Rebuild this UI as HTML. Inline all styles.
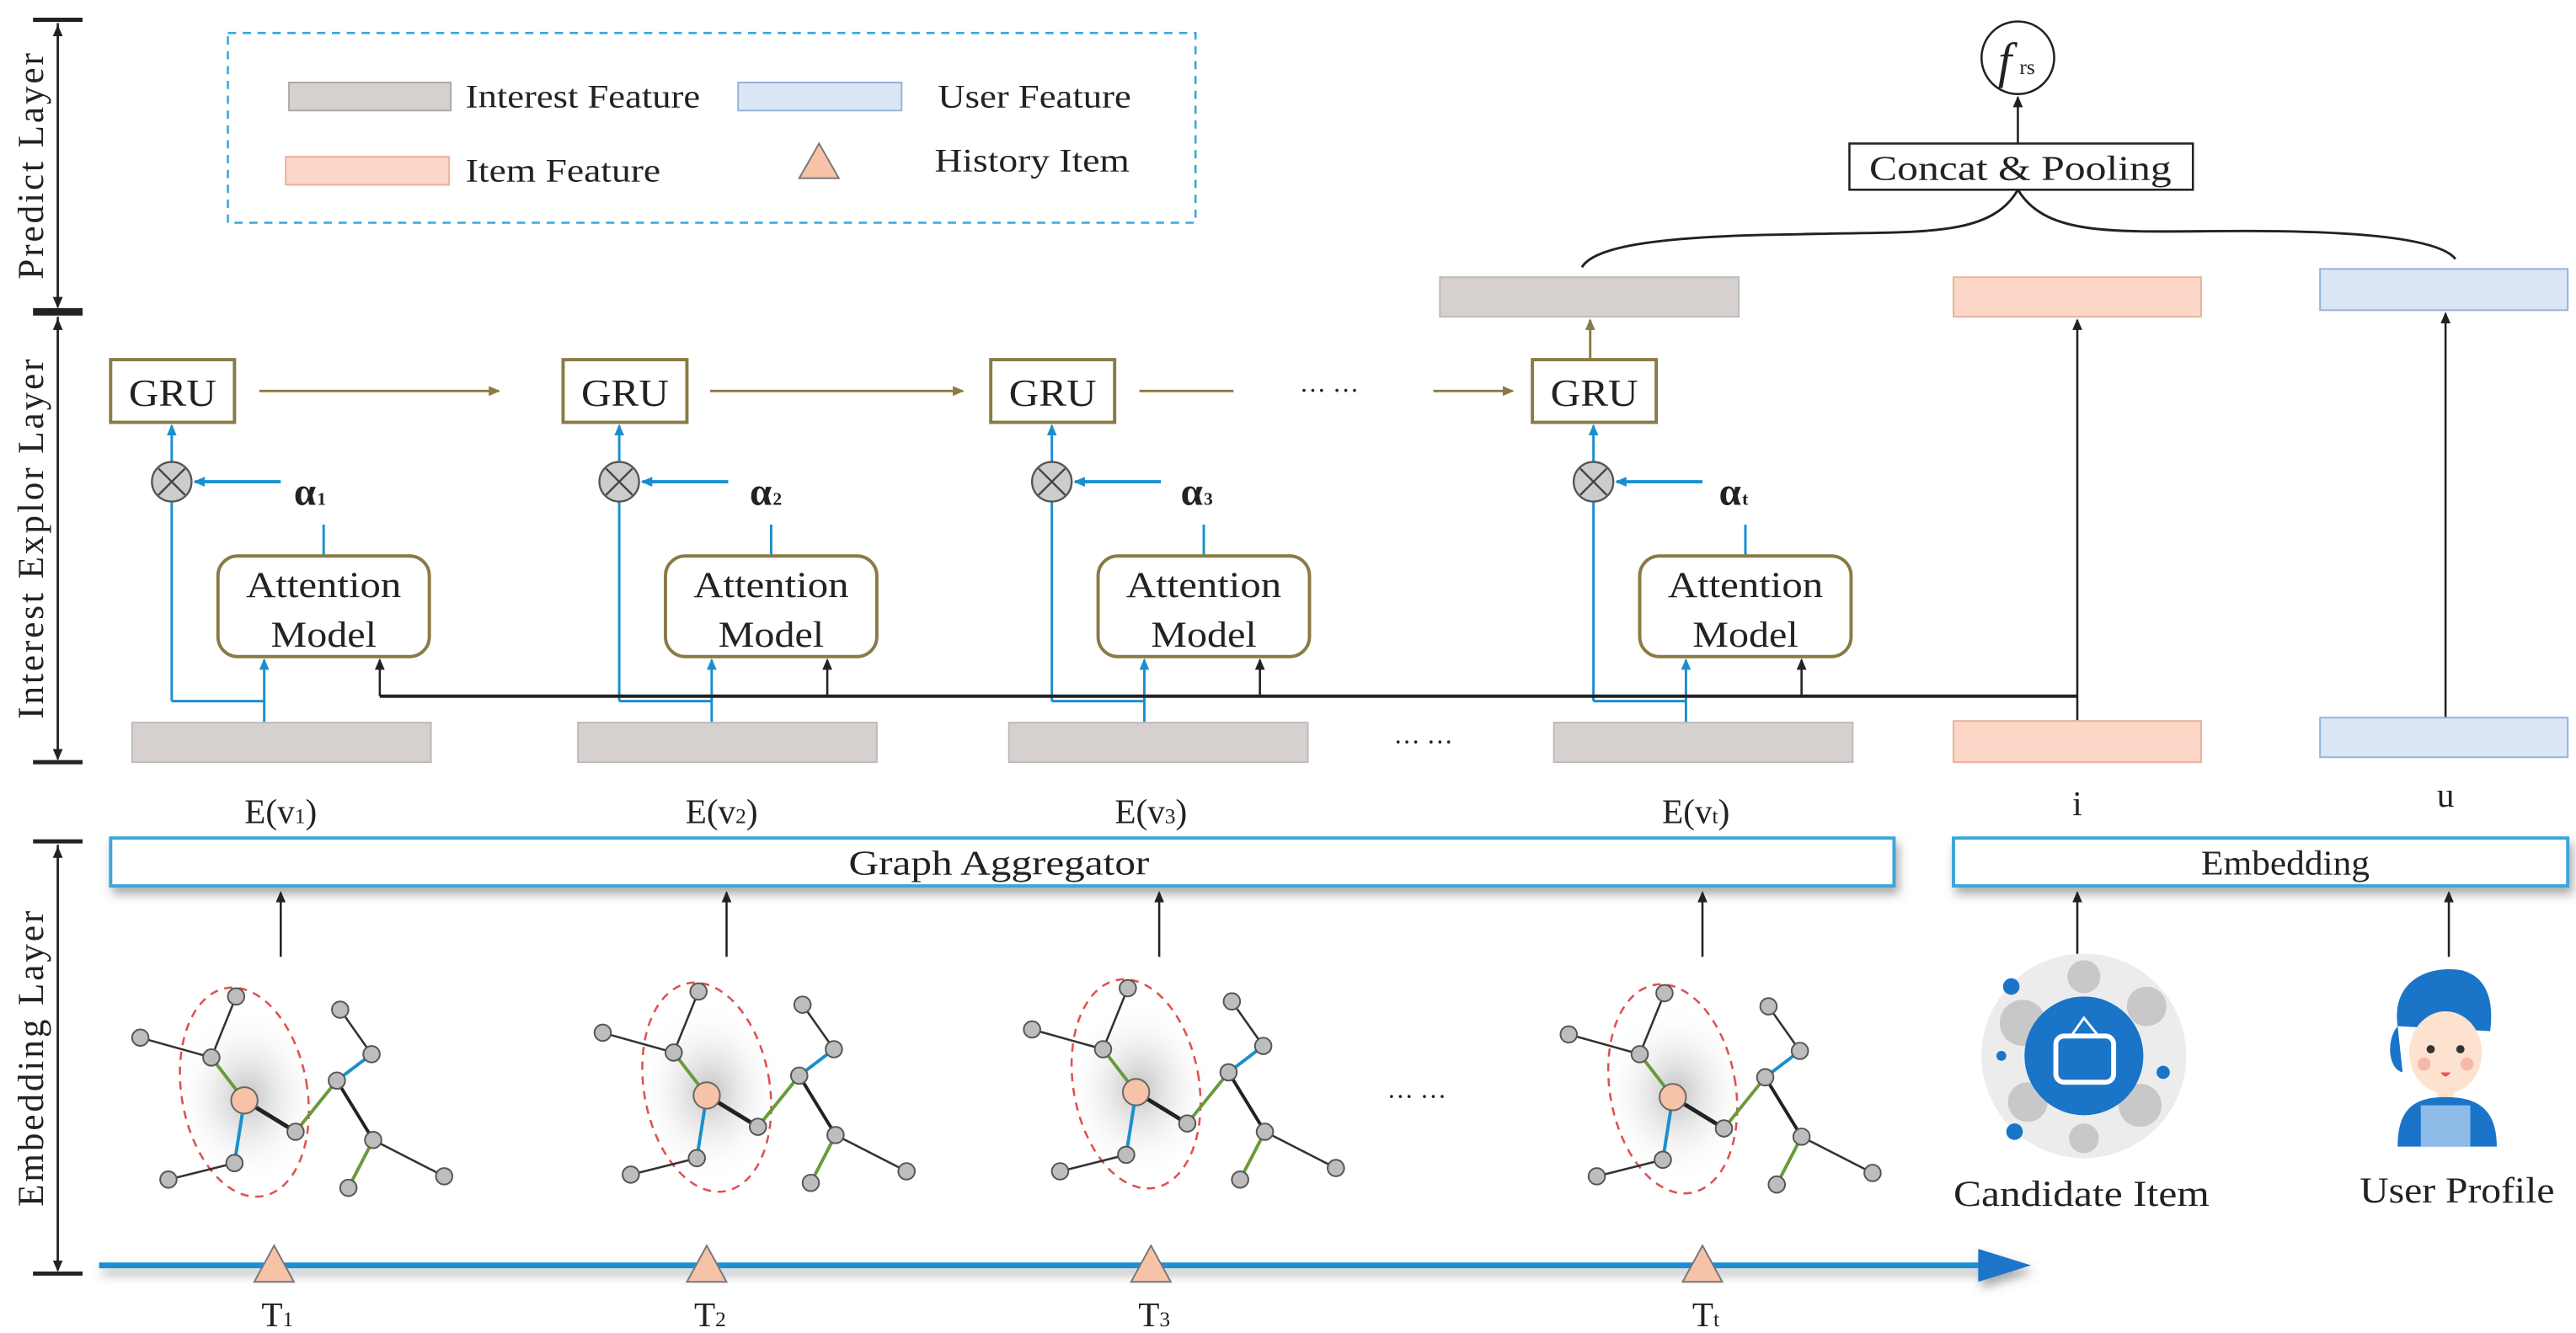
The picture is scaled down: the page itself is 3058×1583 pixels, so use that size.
<!DOCTYPE html>
<html><head><meta charset="utf-8"><style>
html,body{margin:0;padding:0;background:#fff;}
svg{display:block;}
text{font-family:"Liberation Serif",serif;fill:#222;}
</style></head><body>
<svg width="3058" height="1583" viewBox="0 0 1560 808" preserveAspectRatio="none" xmlns="http://www.w3.org/2000/svg">
<defs>
<marker id="ak" markerWidth="8" markerHeight="8" refX="6" refY="3" orient="auto" markerUnits="userSpaceOnUse"><path d="M0,0 L7,3 L0,6 z" fill="#222"/></marker>
<marker id="ab" markerWidth="8" markerHeight="8" refX="6" refY="3" orient="auto" markerUnits="userSpaceOnUse"><path d="M0,0 L7,3 L0,6 z" fill="#1a8fd0"/></marker>
<marker id="ao" markerWidth="8" markerHeight="8" refX="6" refY="3" orient="auto" markerUnits="userSpaceOnUse"><path d="M0,0 L7,3 L0,6 z" fill="#8a7a45"/></marker>
<radialGradient id="glow"><stop offset="0" stop-color="#bbb" stop-opacity="0.9"/><stop offset="1" stop-color="#fff" stop-opacity="0"/></radialGradient>
<filter id="sh" x="-5%" y="-50%" width="110%" height="250%"><feDropShadow dx="2" dy="4" stdDeviation="3" flood-color="#555" flood-opacity="0.5"/></filter>
<g id="graph">
<ellipse cx="150" cy="665" rx="45" ry="55" fill="url(#glow)"/>
<ellipse cx="148" cy="662" rx="38" ry="64" fill="none" stroke="#e05050" stroke-width="1.3" stroke-dasharray="5,4" transform="rotate(-10 148 662)"/>
<g stroke-width="1.3" fill="none">
<line x1="143" y1="604" x2="128" y2="641" stroke="#333"/>
<line x1="85" y1="629" x2="128" y2="641" stroke="#333"/>
<line x1="128" y1="641" x2="148" y2="667" stroke="#6a9a3a" stroke-width="2"/>
<line x1="148" y1="667" x2="179" y2="686" stroke="#222" stroke-width="2.5"/>
<line x1="148" y1="667" x2="142" y2="705" stroke="#1a8fd0" stroke-width="2"/>
<line x1="142" y1="705" x2="102" y2="715" stroke="#333"/>
<line x1="179" y1="686" x2="204" y2="655" stroke="#6a9a3a" stroke-width="2"/>
<line x1="204" y1="655" x2="225" y2="639" stroke="#1a8fd0" stroke-width="2"/>
<line x1="225" y1="639" x2="206" y2="612" stroke="#333"/>
<line x1="204" y1="655" x2="226" y2="691" stroke="#222" stroke-width="2"/>
<line x1="226" y1="691" x2="269" y2="713" stroke="#333"/>
<line x1="226" y1="691" x2="211" y2="720" stroke="#6a9a3a" stroke-width="2"/>
</g>
<g fill="#bdbdbd" stroke="#555" stroke-width="1">
<circle cx="143" cy="604" r="5"/><circle cx="85" cy="629" r="5"/><circle cx="128" cy="641" r="5"/>
<circle cx="179" cy="686" r="5"/><circle cx="204" cy="655" r="5"/><circle cx="225" cy="639" r="5"/>
<circle cx="206" cy="612" r="5"/><circle cx="226" cy="691" r="5"/><circle cx="269" cy="713" r="5"/>
<circle cx="211" cy="720" r="5"/><circle cx="142" cy="705" r="5"/><circle cx="102" cy="715" r="5"/>
</g>
<circle cx="148" cy="667" r="8" fill="#f6c3a8" stroke="#666" stroke-width="1"/>
</g>
</defs>

<g stroke="#222" stroke-width="1.3">
<line x1="20" y1="12" x2="50" y2="12" stroke-width="2.5"/><line x1="20" y1="188" x2="50" y2="188" stroke-width="2.5"/>
<line x1="35" y1="14" x2="35" y2="186" marker-end="url(#ak)"/><line x1="35" y1="186" x2="35" y2="16" marker-end="url(#ak)"/>
<line x1="20" y1="190" x2="50" y2="190" stroke-width="2.5"/><line x1="20" y1="462" x2="50" y2="462" stroke-width="2.5"/>
<line x1="35" y1="192" x2="35" y2="460" marker-end="url(#ak)"/><line x1="35" y1="460" x2="35" y2="194" marker-end="url(#ak)"/>
<line x1="20" y1="510" x2="50" y2="510" stroke-width="2.5"/><line x1="20" y1="772" x2="50" y2="772" stroke-width="2.5"/>
<line x1="35" y1="512" x2="35" y2="770" marker-end="url(#ak)"/><line x1="35" y1="770" x2="35" y2="514" marker-end="url(#ak)"/>
</g>
<text transform="translate(26,100) rotate(-90)" text-anchor="middle" font-size="22" letter-spacing="1.5">Predict  Layer</text>
<text transform="translate(26,326) rotate(-90)" text-anchor="middle" font-size="22" letter-spacing="1.5">Interest Explor Layer</text>
<text transform="translate(26,641) rotate(-90)" text-anchor="middle" font-size="22" letter-spacing="1.5">Embedding  Layer</text>

<rect x="138" y="20" width="586" height="115" fill="none" stroke="#3aa6d8" stroke-width="1.3" stroke-dasharray="5,4"/>
<rect x="175" y="50" width="98" height="17" fill="#d6d1cf" stroke="#aaa"/>
<text x="282" y="65" font-size="20" textLength="142" lengthAdjust="spacingAndGlyphs">Interest Feature</text>
<rect x="447" y="50" width="99" height="17" fill="#dbe6f5" stroke="#95b1dc"/>
<text x="568" y="65" font-size="20" textLength="117" lengthAdjust="spacingAndGlyphs">User Feature</text>
<rect x="173" y="95" width="99" height="17" fill="#fcd6c6" stroke="#e8b39b"/>
<text x="282" y="110" font-size="20" textLength="118" lengthAdjust="spacingAndGlyphs">Item Feature</text>
<polygon points="496,87 484,108 508,108" fill="#f6c3a8" stroke="#777"/>
<text x="566" y="104" font-size="20" textLength="118" lengthAdjust="spacingAndGlyphs">History Item</text>

<circle cx="1222" cy="35" r="22" fill="#fff" stroke="#222" stroke-width="1.3"/>
<text x="1210" y="47" font-size="30" font-style="italic">f</text><text x="1223" y="45" font-size="13">rs</text>
<line x1="1222" y1="87" x2="1222" y2="59" stroke="#222" stroke-width="1.3" marker-end="url(#ak)"/>
<rect x="1120" y="87" width="208" height="28" fill="#fff" stroke="#222" stroke-width="1.3"/>
<text x="1132" y="109" font-size="21" textLength="183" lengthAdjust="spacingAndGlyphs">Concat &amp; Pooling</text>
<path d="M1222,115 C1205,145 1160,140 1090,142 C1000,143 965,150 958,162" fill="none" stroke="#222" stroke-width="1.5"/>
<path d="M1222,115 C1240,145 1285,140 1360,140 C1450,140 1480,148 1487,157" fill="none" stroke="#222" stroke-width="1.5"/>
<rect x="872" y="168" width="181" height="24" fill="#d6d1cf" stroke="#bbb"/>
<rect x="1183" y="168" width="150" height="24" fill="#fcd6c6" stroke="#e8b39b"/>
<rect x="1405" y="163" width="150" height="25" fill="#dbe6f5" stroke="#95b1dc"/>

<g fill="#fff" stroke="#8a7a45" stroke-width="2">
<rect x="67" y="218" width="75" height="38"/><rect x="341" y="218" width="75" height="38"/>
<rect x="600" y="218" width="75" height="38"/><rect x="928" y="218" width="75" height="38"/>
</g>
<g font-size="23"><text x="78" y="246" textLength="53" lengthAdjust="spacingAndGlyphs">GRU</text><text x="352" y="246" textLength="53" lengthAdjust="spacingAndGlyphs">GRU</text><text x="611" y="246" textLength="53" lengthAdjust="spacingAndGlyphs">GRU</text><text x="939" y="246" textLength="53" lengthAdjust="spacingAndGlyphs">GRU</text></g>
<g stroke="#8a7a45" stroke-width="1.5">
<line x1="157" y1="237" x2="302" y2="237" marker-end="url(#ao)"/>
<line x1="430" y1="237" x2="583" y2="237" marker-end="url(#ao)"/>
<line x1="690" y1="237" x2="747" y2="237"/>
<line x1="868" y1="237" x2="916" y2="237" marker-end="url(#ao)"/>
<line x1="963" y1="218" x2="963" y2="194" marker-end="url(#ao)"/>
</g>
<text x="805" y="242" font-size="16" text-anchor="middle">··· ···</text>

<g id="col">
<line x1="104" y1="425" x2="104" y2="258" stroke="#1a8fd0" stroke-width="1.5" marker-end="url(#ab)"/>
<circle cx="104" cy="292" r="12" fill="#ccc" stroke="#555" stroke-width="1.2"/>
<path d="M96,284 L112,300 M112,284 L96,300" stroke="#444" stroke-width="1.2"/>
<line x1="170" y1="292" x2="118" y2="292" stroke="#1a8fd0" stroke-width="2" marker-end="url(#ab)"/>
<line x1="196" y1="318" x2="196" y2="337" stroke="#1a8fd0" stroke-width="1.5"/>
<rect x="132" y="337" width="128" height="61" rx="12" fill="#fff" stroke="#8a7a45" stroke-width="2"/>
<text x="149" y="362" font-size="22" textLength="94" lengthAdjust="spacingAndGlyphs">Attention</text>
<text x="164" y="392" font-size="22" textLength="64" lengthAdjust="spacingAndGlyphs">Model</text>
<polyline points="104,425 160,425" fill="none" stroke="#1a8fd0" stroke-width="1.5"/>
<line x1="160" y1="438" x2="160" y2="400" stroke="#1a8fd0" stroke-width="1.5" marker-end="url(#ab)"/>
<line x1="230" y1="422" x2="230" y2="400" stroke="#222" stroke-width="1.3" marker-end="url(#ak)"/>
</g>
<use href="#col" x="271"/><use href="#col" x="533"/><use href="#col" x="861"/>
<g font-size="24" font-weight="bold"><text x="178" y="306">α</text><text x="454" y="306">α</text><text x="715" y="306">α</text><text x="1041" y="306">α</text></g>
<g font-size="11" font-weight="bold"><text x="192" y="306">1</text><text x="468" y="306">2</text><text x="729" y="306">3</text><text x="1055" y="306">t</text></g>
<line x1="230" y1="422" x2="1258" y2="422" stroke="#222" stroke-width="2"/>
<line x1="1258" y1="437" x2="1258" y2="194" stroke="#222" stroke-width="1.3" marker-end="url(#ak)"/>
<line x1="1481" y1="435" x2="1481" y2="190" stroke="#222" stroke-width="1.3" marker-end="url(#ak)"/>

<g fill="#d6d1cf" stroke="#bbb"><rect x="80" y="438" width="181" height="24"/><rect x="350" y="438" width="181" height="24"/><rect x="611" y="438" width="181" height="24"/><rect x="941" y="438" width="181" height="24"/></g>
<text x="862" y="455" font-size="16" text-anchor="middle">··· ···</text>
<rect x="1183" y="437" width="150" height="25" fill="#fcd6c6" stroke="#e8b39b"/>
<rect x="1405" y="435" width="150" height="24" fill="#dbe6f5" stroke="#95b1dc"/>
<g font-size="21" text-anchor="middle">
<text x="170" y="499">E(v<tspan font-size="13">1</tspan>)</text>
<text x="437" y="499">E(v<tspan font-size="13">2</tspan>)</text>
<text x="697" y="499">E(v<tspan font-size="13">3</tspan>)</text>
<text x="1027" y="499">E(v<tspan font-size="13">t</tspan>)</text>
<text x="1258" y="494">i</text><text x="1481" y="489">u</text>
</g>

<rect x="67" y="508" width="1080" height="29" fill="#fff" stroke="#3aa6d8" stroke-width="2" filter="url(#sh)"/>
<text x="514" y="530" font-size="21" textLength="182" lengthAdjust="spacingAndGlyphs">Graph Aggregator</text>
<rect x="1183" y="508" width="372" height="29" fill="#fff" stroke="#3aa6d8" stroke-width="2" filter="url(#sh)"/>
<text x="1333" y="530" font-size="21" textLength="102" lengthAdjust="spacingAndGlyphs">Embedding</text>
<g stroke="#222" stroke-width="1.3">
<line x1="170" y1="580" x2="170" y2="541" marker-end="url(#ak)"/>
<line x1="440" y1="580" x2="440" y2="541" marker-end="url(#ak)"/>
<line x1="702" y1="580" x2="702" y2="541" marker-end="url(#ak)"/>
<line x1="1031" y1="580" x2="1031" y2="541" marker-end="url(#ak)"/>
<line x1="1258" y1="580" x2="1258" y2="541" marker-end="url(#ak)"/>
<line x1="1483" y1="580" x2="1483" y2="541" marker-end="url(#ak)"/>
</g>

<use href="#graph"/><use href="#graph" x="280" y="-3"/><use href="#graph" x="540" y="-5"/><use href="#graph" x="865" y="-2"/>
<text x="858" y="670" font-size="16" text-anchor="middle">··· ···</text>

<circle cx="1262" cy="640" r="62" fill="#ececec"/>
<g fill="#c8c8c8"><circle cx="1225" cy="620" r="14"/><circle cx="1300" cy="610" r="12"/><circle cx="1296" cy="670" r="13"/><circle cx="1228" cy="668" r="12"/><circle cx="1262" cy="592" r="10"/><circle cx="1262" cy="690" r="9"/></g>
<g fill="#1a74c8"><circle cx="1218" cy="598" r="5"/><circle cx="1220" cy="686" r="5"/><circle cx="1310" cy="650" r="4"/><circle cx="1212" cy="640" r="3"/></g>
<circle cx="1262" cy="640" r="36" fill="#1a74c8"/>
<rect x="1245" y="628" width="35" height="28" rx="5" fill="none" stroke="#fff" stroke-width="3"/>
<path d="M1255,627 L1262,617 L1270,627" fill="none" stroke="#fff" stroke-width="1.5"/>
<text x="1183" y="731" font-size="22" textLength="155" lengthAdjust="spacingAndGlyphs">Candidate Item</text>

<path d="M1452,622 C1448,595 1470,585 1490,588 C1508,592 1510,610 1508,625 Z" fill="#1a74c8"/>
<path d="M1452,622 C1445,630 1446,648 1455,650 Z" fill="#1a74c8"/>
<circle cx="1484" cy="625" r="5" fill="#0d3d70"/>
<ellipse cx="1481" cy="638" rx="22" ry="25" fill="#fde3cf"/>
<circle cx="1472" cy="636" r="2.5" fill="#333"/><circle cx="1490" cy="636" r="2.5" fill="#333"/>
<circle cx="1468" cy="645" r="4" fill="#f6b9a8"/><circle cx="1494" cy="645" r="4" fill="#f6b9a8"/>
<path d="M1478,650 Q1481,655 1484,650 Z" fill="#e55"/>
<rect x="1476" y="660" width="10" height="6" fill="#fde3cf"/>
<path d="M1452,695 C1452,672 1462,665 1481,665 C1500,665 1512,672 1512,695 Z" fill="#1a74c8"/>
<rect x="1466" y="670" width="30" height="25" fill="#8fbbe8"/>
<text x="1429" y="729" font-size="22" textLength="118" lengthAdjust="spacingAndGlyphs">User Profile</text>

<g filter="url(#sh)">
<line x1="60" y1="767" x2="1205" y2="767" stroke="#1a8fd0" stroke-width="3.5"/>
<polygon points="1198,757 1230,767 1198,777" fill="#1a74c8"/>
</g>
<g fill="#f6c3a8" stroke="#777" stroke-width="1">
<polygon points="166,755 154,777 178,777"/><polygon points="428,755 416,777 440,777"/>
<polygon points="697,755 685,777 709,777"/><polygon points="1031,755 1019,777 1043,777"/>
</g>
<g font-size="21" text-anchor="middle">
<text x="168" y="804">T<tspan font-size="13">1</tspan></text>
<text x="430" y="804">T<tspan font-size="13">2</tspan></text>
<text x="699" y="804">T<tspan font-size="13">3</tspan></text>
<text x="1033" y="804">T<tspan font-size="13">t</tspan></text>
</g>
</svg>
</body></html>
